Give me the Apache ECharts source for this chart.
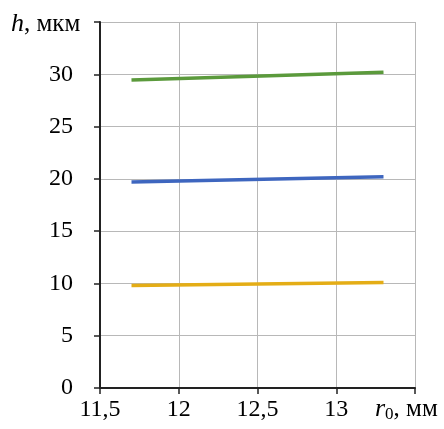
<!DOCTYPE html>
<html>
<head>
<meta charset="utf-8">
<script src="https://cdn.jsdelivr.net/npm/echarts@6/dist/echarts.min.js"></script>
<style>
  html,body{margin:0;padding:0;background:#fff}
  #main{width:444px;height:429px}
</style>
</head>
<body>
<div id="main"></div>
<script>
// радиус r0, мм
var r0 = [11.7, 13.3]
var hGreen = [29.45, 30.2]
var hBlue = [19.7, 20.2]
var hYellow = [9.8, 10.1]
var xTicks = [11.5, 12, 12.5, 13, 13.5]

var FONT = 'Liberation Serif'

function pairs(xs, ys) {
  return xs.map(function (x, i) { return [x, ys[i]] })
}

var myChart = echarts.init(document.getElementById('main'))
myChart.setOption({
  animation: false,
  backgroundColor: '#fff',
  grid: { left: 100, right: 29, top: 22, bottom: 41 },
  xAxis: {
    type: 'value',
    min: xTicks[0],
    max: xTicks[xTicks.length - 1],
    interval: 0.5,
    axisLine: { onZero: false, lineStyle: { color: '#222', width: 2 } },
    axisTick: { show: true, length: 6, lineStyle: { color: '#222', width: 1.5 } },
    axisLabel: {
      color: '#000', fontFamily: FONT, fontSize: 24, margin: 10,
      formatter: function (v) {
        if (v >= 13.5) return ''
        return String(v).replace('.', ',')
      }
    },
    splitLine: { show: true, lineStyle: { color: '#b8b8b8', width: 1 } }
  },
  yAxis: {
    type: 'value',
    min: 0,
    max: 35,
    interval: 5,
    axisLine: { show: true, lineStyle: { color: '#222', width: 2 } },
    axisTick: { show: true, length: 6, lineStyle: { color: '#222', width: 1.5 } },
    axisLabel: {
      color: '#000', fontFamily: FONT, fontSize: 24, margin: 27,
      formatter: function (v) { return v >= 35 ? '' : String(v) }
    },
    splitLine: { show: true, lineStyle: { color: '#b8b8b8', width: 1 } }
  },
  series: [
    { type: 'line', data: pairs(r0, hGreen), symbol: 'none', lineStyle: { color: '#5b9a3c', width: 3.5 } },
    { type: 'line', data: pairs(r0, hBlue), symbol: 'none', lineStyle: { color: '#3e66bf', width: 3.5 } },
    { type: 'line', data: pairs(r0, hYellow), symbol: 'none', lineStyle: { color: '#e4ad16', width: 3.5 } }
  ],
  graphic: [
    {
      type: 'text', left: 11, top: 11,
      style: {
        text: '{i|h}, мкм',
        rich: {
          i: { fontFamily: FONT, fontSize: 26, fontStyle: 'italic', fill: '#000' }
        },
        fontFamily: FONT, fontSize: 25, fill: '#000'
      }
    },
    {
      type: 'text', left: 375, top: 396,
      style: {
        text: '{i|r}{s|0}, мм',
        rich: {
          i: { fontFamily: FONT, fontSize: 26, fontStyle: 'italic', fill: '#000' },
          s: { fontFamily: FONT, fontSize: 17, fill: '#000', padding: [11, 0, 0, 0] }
        },
        fontFamily: FONT, fontSize: 25, fill: '#000'
      }
    }
  ]
})
</script>
</body>
</html>
